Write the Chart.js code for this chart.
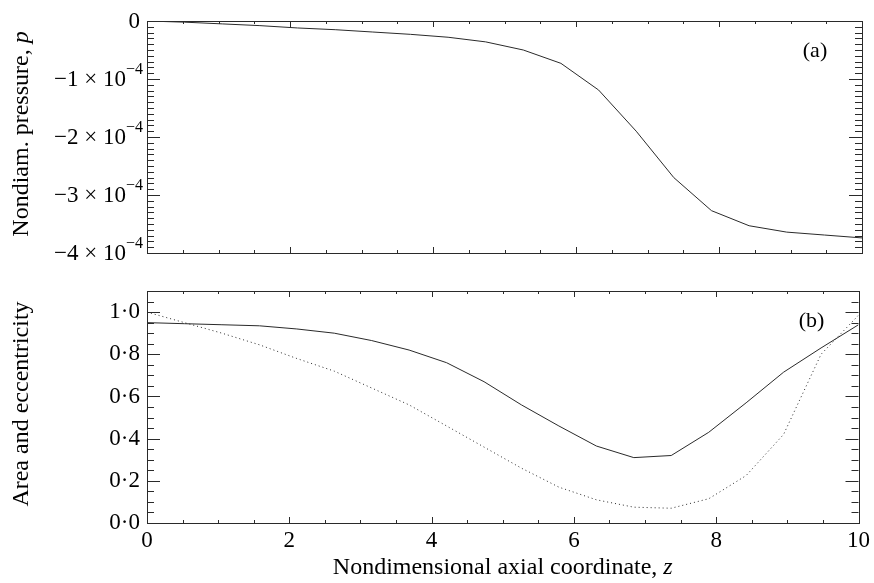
<!DOCTYPE html>
<html>
<head>
<meta charset="utf-8">
<script src="https://cdn.jsdelivr.net/npm/chart.js@4.4.1/dist/chart.umd.min.js"></script>
<style>
  html, body { margin: 0; padding: 0; background: #fff; }
  #wrap { position: relative; width: 874px; height: 583px; }
  #topChart { position: absolute; left: 0; top: 0; }
  #botChart { position: absolute; left: 0; top: 270px; }
</style>
</head>
<body>
<div id="wrap">
  <canvas id="topChart" width="874" height="270"></canvas>
  <canvas id="botChart" width="874" height="313"></canvas>
</div>
<script>
// axial positions of the computed points
const zValues = [0, 0.526, 1.053, 1.579, 2.105, 2.632, 3.158, 3.684, 4.211, 4.737,
                 5.263, 5.789, 6.316, 6.842, 7.368, 7.895, 8.421, 8.947, 9.474, 10];

// panel (a): nondimensional pressure
const pressure = [0, -0.02e-4, -0.05e-4, -0.08e-4, -0.12e-4, -0.15e-4, -0.19e-4, -0.23e-4, -0.28e-4, -0.36e-4,
                  -0.50e-4, -0.73e-4, -1.19e-4, -1.90e-4, -2.70e-4, -3.27e-4, -3.53e-4, -3.64e-4, -3.69e-4, -3.74e-4];

// panel (b): area (solid) and eccentricity (dotted)
const area = [0.95, 0.945, 0.94, 0.935, 0.92, 0.90, 0.865, 0.82, 0.76, 0.67,
              0.56, 0.46, 0.365, 0.31, 0.32, 0.43, 0.57, 0.715, 0.83, 0.94];
const eccentricity = [1.0, 0.95, 0.90, 0.845, 0.78, 0.72, 0.64, 0.56, 0.46, 0.36,
                      0.26, 0.17, 0.11, 0.075, 0.07, 0.115, 0.225, 0.42, 0.80, 0.985];

// ticks
const xTicks = [0, 2, 4, 6, 8, 10];
const pTicks = [0, -1e-4, -2e-4, -3e-4, -4e-4];
const pTickMantissa = ['0', '\u22121 \u00d7 10', '\u22122 \u00d7 10', '\u22123 \u00d7 10', '\u22124 \u00d7 10'];
const pTickExponent = ['', '\u22124', '\u22124', '\u22124', '\u22124'];
const bTicks = [0, 0.2, 0.4, 0.6, 0.8, 1.0];
const bTickLabels = ['0\u00b70', '0\u00b72', '0\u00b74', '0\u00b76', '0\u00b78', '1\u00b70'];

// axis titles: plain part + italic symbol
const xTitle = ['Nondimensional axial coordinate, ', 'z'];
const pTitle = ['Nondiam. pressure, ', 'p'];
const bTitle = ['Area and eccentricity', ''];

const SERIF = '"Liberation Serif", "Times New Roman", serif';
const INK = '#2a2a2a';
const TICK_FONT = '23px ' + SERIF;
const TITLE_SIZE = 24;

function points(ys) {
  return zValues.map((z, i) => ({ x: z, y: ys[i] }));
}

// text with an italic tail, centred on (0,0) of the current transform
function drawTitle(ctx, parts) {
  ctx.font = TITLE_SIZE + 'px ' + SERIF;
  const w1 = ctx.measureText(parts[0]).width;
  ctx.font = 'italic ' + TITLE_SIZE + 'px ' + SERIF;
  const w2 = ctx.measureText(parts[1]).width;
  let x = -(w1 + w2) / 2;
  ctx.textAlign = 'left';
  ctx.textBaseline = 'middle';
  ctx.font = TITLE_SIZE + 'px ' + SERIF;
  ctx.fillText(parts[0], x, 0);
  ctx.font = 'italic ' + TITLE_SIZE + 'px ' + SERIF;
  ctx.fillText(parts[1], x + w1, 0);
}

// frame, inward ticks, panel letter and titles
function framePlugin(opts) {
  return {
    id: 'frame',
    afterDraw(chart) {
      const ctx = chart.ctx;
      const a = chart.chartArea;
      const xs = chart.scales.x, ys = chart.scales.y;
      ctx.save();
      ctx.strokeStyle = INK;
      ctx.lineWidth = 1;
      ctx.strokeRect(Math.round(a.left) + 0.5, Math.round(a.top) + 0.5,
                     Math.round(a.right - a.left), Math.round(a.bottom - a.top));
      ctx.beginPath();
      for (let v = 0; v <= 10.001; v += 0.5) {
        const px = Math.round(xs.getPixelForValue(v)) + 0.5;
        const len = Math.abs(v % 2) < 1e-6 ? 6 : 3;
        ctx.moveTo(px, a.bottom); ctx.lineTo(px, a.bottom - len);
        ctx.moveTo(px, a.top); ctx.lineTo(px, a.top + len);
      }
      const n = Math.round((opts.yMax - opts.yMin) / opts.minor);
      for (let i = 0; i <= n; i++) {
        const v = opts.yMin + i * opts.minor;
        const py = Math.round(ys.getPixelForValue(v)) + 0.5;
        const r = (v - opts.yMin) / opts.major;
        const len = Math.abs(r - Math.round(r)) < 1e-6 ? 13 : 7;
        ctx.moveTo(a.left, py); ctx.lineTo(a.left + len, py);
        ctx.moveTo(a.right, py); ctx.lineTo(a.right - len, py);
      }
      ctx.stroke();

      ctx.fillStyle = '#000';
      ctx.font = '22px ' + SERIF;
      ctx.textAlign = 'center';
      ctx.textBaseline = 'middle';
      ctx.fillText(opts.letter, a.right - 47, a.top + 30);

      // y title, rotated
      ctx.save();
      ctx.translate(22, (a.top + a.bottom) / 2 - 3);
      ctx.rotate(-Math.PI / 2);
      drawTitle(ctx, opts.yTitle);
      ctx.restore();

      if (opts.xTitle) {
        ctx.save();
        ctx.translate((a.left + a.right) / 2, a.bottom + 45);
        drawTitle(ctx, opts.xTitle);
        ctx.restore();
      }
      if (opts.after) opts.after(chart);
      ctx.restore();
    }
  };
}

// y labels with superscript exponent for panel (a)
function drawPressureLabels(chart) {
  const ctx = chart.ctx;
  const ys = chart.scales.y;
  const right = chart.chartArea.left - 4;
  ctx.fillStyle = '#000';
  ctx.textBaseline = 'middle';
  pTicks.forEach((v, i) => {
    const py = ys.getPixelForValue(v);
    let x = right;
    ctx.textAlign = 'right';
    if (pTickExponent[i]) {
      ctx.font = '16px ' + SERIF;
      ctx.fillText(pTickExponent[i], x, py - 9);
      x -= ctx.measureText(pTickExponent[i]).width;
    } else {
      x -= 3;
    }
    ctx.font = TICK_FONT;
    ctx.fillText(pTickMantissa[i], x, py + 1);
  });
}

const lineBase = { borderColor: INK, borderWidth: 1, pointRadius: 0, tension: 0, fill: false };

new Chart(document.getElementById('topChart'), {
  type: 'line',
  data: { datasets: [{ ...lineBase, data: points(pressure) }] },
  options: {
    responsive: false,
    animation: false,
    events: [],
    layout: { padding: { top: 21, right: 12, bottom: 17, left: 0 } },
    plugins: { legend: { display: false }, tooltip: { enabled: false } },
    scales: {
      x: { type: 'linear', min: 0, max: 10, display: false },
      y: {
        type: 'linear', min: -4e-4, max: 0,
        grid: { display: false, drawTicks: false },
        border: { display: false },
        ticks: { display: false },
        afterFit(s) { s.width = 147; }
      }
    }
  },
  plugins: [framePlugin({ yMin: -4e-4, yMax: 0, major: 1e-4, minor: 1e-5, letter: '(a)',
                          yTitle: pTitle, after: drawPressureLabels })]
});

new Chart(document.getElementById('botChart'), {
  type: 'line',
  data: {
    datasets: [
      { ...lineBase, data: points(area) },
      { ...lineBase, data: points(eccentricity), borderDash: [1, 3] }
    ]
  },
  options: {
    responsive: false,
    animation: false,
    events: [],
    layout: { padding: { top: 21, right: 12, bottom: 0, left: 0 } },
    plugins: { legend: { display: false }, tooltip: { enabled: false } },
    scales: {
      x: {
        type: 'linear', min: 0, max: 10,
        grid: { display: false, drawTicks: false },
        border: { display: false },
        afterBuildTicks(s) { s.ticks = xTicks.map(v => ({ value: v })); },
        ticks: { color: '#000', font: { family: SERIF, size: 23 }, padding: 4, maxRotation: 0 },
        afterFit(s) { s.height = 60; }
      },
      y: {
        type: 'linear', min: 0, max: 1.1,
        grid: { display: false, drawTicks: false },
        border: { display: false },
        afterBuildTicks(s) { s.ticks = bTicks.map(v => ({ value: v })); },
        ticks: {
          color: '#000', font: { family: SERIF, size: 23 }, padding: 7,
          callback: (v) => bTickLabels[bTicks.findIndex(t => Math.abs(t - v) < 1e-9)]
        },
        afterFit(s) { s.width = 147; }
      }
    }
  },
  plugins: [framePlugin({ yMin: 0, yMax: 1.1, major: 0.2, minor: 0.05, letter: '(b)',
                          yTitle: bTitle, xTitle: xTitle })]
});
</script>
</body>
</html>
